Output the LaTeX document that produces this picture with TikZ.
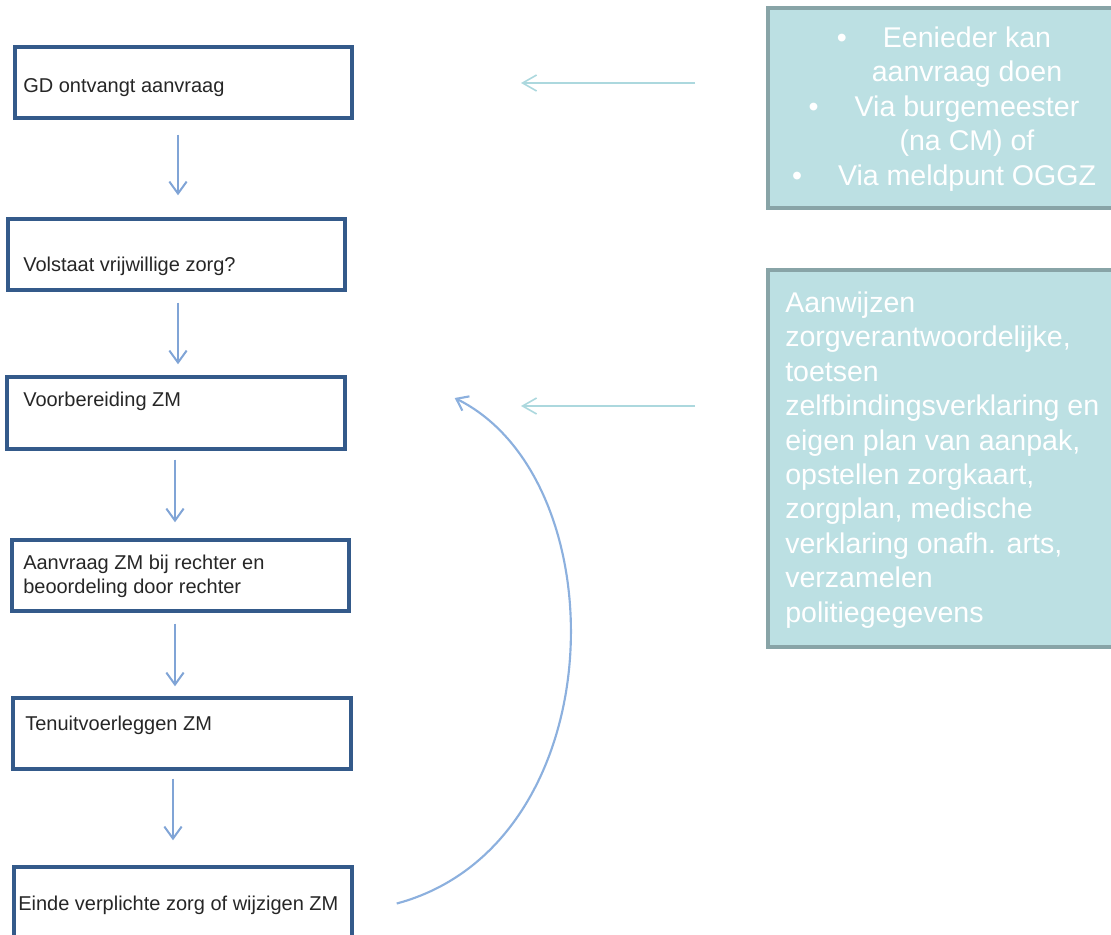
\documentclass[tikz,border=0pt]{standalone}
\usepackage{fontspec}
\setmainfont{Liberation Sans}
\usetikzlibrary{arrows.meta,calc,fit}
\definecolor{boxblue}{RGB}{52,90,138}
\definecolor{arrowblue}{RGB}{128,164,214}
\definecolor{curveblue}{RGB}{140,176,222}
\definecolor{tealarrow}{RGB}{172,216,222}
\definecolor{tealfill}{RGB}{188,224,227}
\definecolor{tealedge}{RGB}{136,164,167}
\definecolor{txtdark}{RGB}{38,38,38}
\begin{document}
\begin{tikzpicture}[x=0.75pt,y=-0.75pt,
  flowbox/.style={draw=boxblue,line width=2.6pt,inner sep=0pt,rectangle},
  infobox/.style={draw=tealedge,fill=tealfill,line width=2.4pt,inner sep=0pt,rectangle},
  flowtext/.style={anchor=base west,inner sep=0pt,text=txtdark,font=\fontsize{15pt}{18pt}\selectfont,align=left},
  infotext/.style={inner sep=0pt,text=white,font=\fontsize{21.4pt}{25.8pt}\selectfont},
  downarrow/.style={draw=arrowblue,line width=1.5pt,-{Straight Barb[length=9pt,width=13pt,line width=1.5pt]}},
  sidearrow/.style={draw=tealarrow,line width=1.2pt,-{Straight Barb[length=10.5pt,width=12pt,line width=1.2pt]}},
  backcurve/.style={draw=curveblue,line width=1.6pt,-{Straight Barb[length=8pt,width=12pt,line width=1.6pt]}}
]
\useasboundingbox (0,0) rectangle (1111,935);

% left flow boxes
\node[flowbox,fit={(15,47) (352,118)}] (b1) {};
\node[flowbox,fit={(8,219) (345,290)}] (b2) {};
\node[flowbox,fit={(7,377) (345,449)}] (b3) {};
\node[flowbox,fit={(12,540) (349,611)}] (b4) {};
\node[flowbox,fit={(13,698) (351,769)}] (b5) {};
\node[flowbox,fit={(14,867) (352,940)}] (b6) {};

\node[flowtext] (t1) at (23,92) {GD ontvangt aanvraag};
\node[flowtext] (t2) at (23,271) {Volstaat vrijwillige zorg?};
\node[flowtext] (t3) at (23,406) {Voorbereiding ZM};
\node[flowtext] (t4) at (23,593) {Aanvraag ZM bij rechter en\\beoordeling door rechter};
\node[flowtext] (t5) at (25,730) {Tenuitvoerleggen ZM};
\node[flowtext] (t6) at (18,910) {Einde verplichte zorg of wijzigen ZM};

% right info boxes
\node[infobox,fit={(768,8) (1116,208)}] (ia) {};
\node[infobox,fit={(768,270) (1116,647)}] (ib) {};

\node[infotext,anchor=base,align=center] (ta) at (944,185) {%
  \makebox[34.5pt][l]{•}Eenieder kan\\
  \hspace*{34.5pt}aanvraag doen\\
  \makebox[34.5pt][l]{•}Via burgemeester\\
  \hspace*{34.5pt}(na CM) of\\
  \makebox[34.5pt][l]{•}Via meldpunt OGGZ};
\node[infotext,anchor=base west,align=left] (tb) at (785,622) {%
  Aanwijzen\\
  zorgverantwoordelijke,\\
  toetsen\\
  zelfbindingsverklaring en\\
  eigen plan van aanpak,\\
  opstellen zorgkaart,\\
  zorgplan, medische\\
  verklaring onafh. arts,\\
  verzamelen\\
  politiegegevens};

% vertical arrows
\draw[downarrow] ($(b1.south)+(-5.5,15)$) -- ($(b2.north)+(1.5,-22)$);
\draw[downarrow] ($(b2.south)+(1.5,11)$) -- ($(b3.north)+(2,-11)$);
\draw[downarrow] ($(b3.south)+(-1,9)$) -- ($(b4.north)+(-5.5,-16)$);
\draw[downarrow] ($(b4.south)+(-5.5,11)$) -- ($(b5.north)+(-7,-10)$);
\draw[downarrow] ($(b5.south)+(-9,8)$) -- ($(b6.north)+(-10,-25)$);

% side arrows from info boxes
\coordinate (sa1) at (695,83);
\coordinate (sa2) at (521,83);
\coordinate (sb1) at (695,406);
\coordinate (sb2) at (521,406);
\draw[sidearrow] (sa1) -- (sa2);
\draw[sidearrow] (sb1) -- (sb2);

% feedback curve
\coordinate (cs) at ($(b6.east)+(43,0)$);
\coordinate (ce) at ($(b3.east)+(108,-15)$);
\draw[backcurve] (cs) .. controls (615,845) and (620,480) .. (ce);
\end{tikzpicture}
\end{document}
